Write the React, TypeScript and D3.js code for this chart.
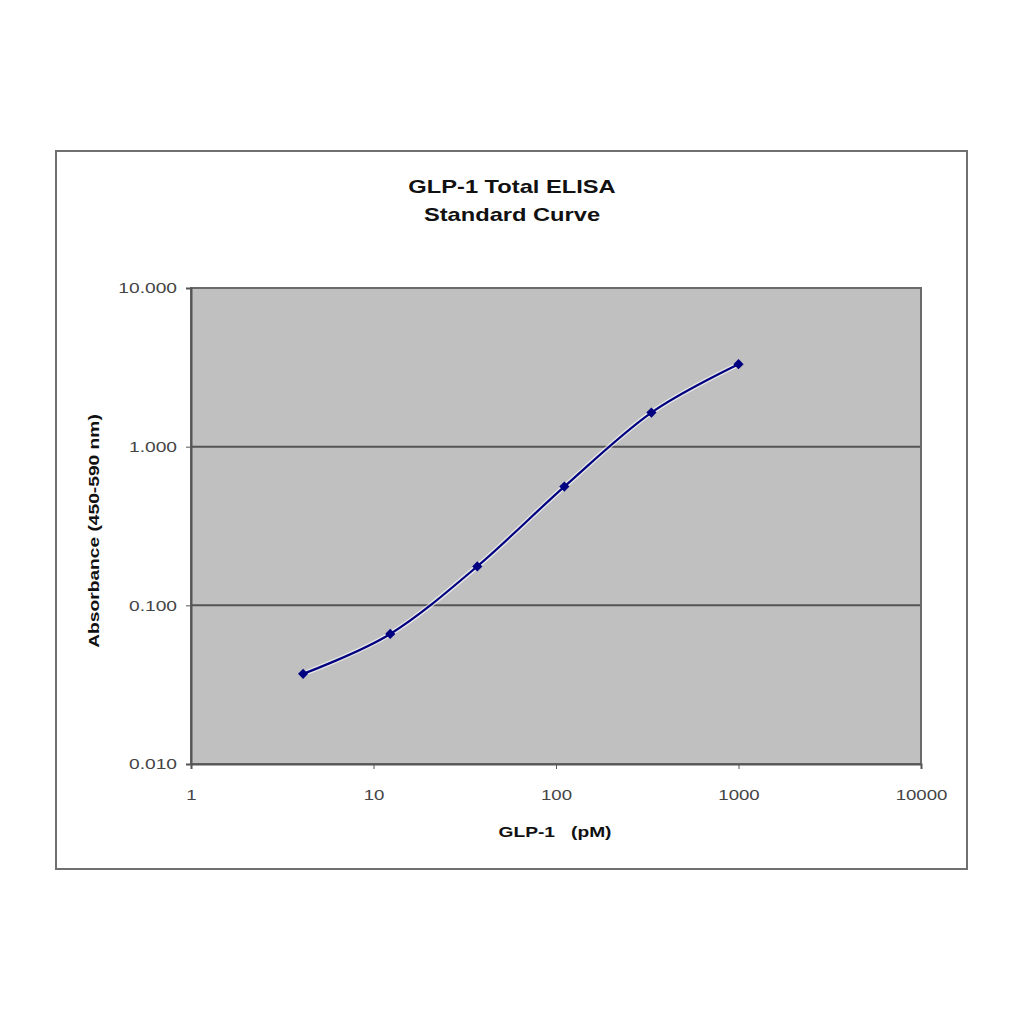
import { useEffect, useRef } from "react";
import * as d3 from "d3";

// GLP-1 standard curve (3-fold dilutions)
const concentrations = [4.115, 12.35, 37.04, 111.1, 333.3, 1000];
const absorbance = [0.037, 0.066, 0.176, 0.56, 1.64, 3.31];
const xTicks = [1, 10, 100, 1000, 10000];
const yTicks = [0.01, 0.1, 1, 10];
const titleLines = ["GLP-1 Total ELISA", "Standard Curve"];
const xTitle = "GLP-1  (pM)";
const yTitle = "Absorbance (450-590 nm)";

const W = 1024;
const H = 1024;
const plot = { left: 191, top: 288, right: 921, bottom: 764 };
const font = "Arial, 'Liberation Sans', sans-serif";
const stretch = 1.28; // the old Excel text renders wide

export default function App() {
  const svgRef = useRef<SVGSVGElement>(null);

  useEffect(() => {
    const svg = d3.select(svgRef.current);
    if (!svg.node()) return;
    svg.selectAll("*").remove();

    const x = d3.scaleLog().domain([1, 10000]).range([plot.left, plot.right]);
    const y = d3.scaleLog().domain([0.01, 10]).range([plot.bottom, plot.top]);

    svg.append("rect").attr("width", W).attr("height", H).attr("fill", "#fff");

    // outer chart frame
    svg.append("rect")
      .attr("x", 56).attr("y", 151)
      .attr("width", 911).attr("height", 718)
      .attr("fill", "#fff")
      .attr("stroke", "#707070")
      .attr("stroke-width", 2);

    // plot area
    svg.append("rect")
      .attr("x", plot.left).attr("y", plot.top)
      .attr("width", plot.right - plot.left)
      .attr("height", plot.bottom - plot.top)
      .attr("fill", "#c0c0c0");

    // gridlines
    svg.append("g")
      .selectAll("line")
      .data(yTicks.slice(1, -1))
      .join("line")
      .attr("x1", plot.left).attr("x2", plot.right)
      .attr("y1", (d) => y(d)).attr("y2", (d) => y(d))
      .attr("stroke", "#555")
      .attr("stroke-width", 2);

    svg.append("rect")
      .attr("x", plot.left).attr("y", plot.top)
      .attr("width", plot.right - plot.left)
      .attr("height", plot.bottom - plot.top)
      .attr("fill", "none")
      .attr("stroke", "#6a6a6a")
      .attr("stroke-width", 2);

    // axes
    const yAxis = svg.append("g")
      .attr("transform", `translate(${plot.left},0)`)
      .call(d3.axisLeft(y).tickValues(yTicks).tickFormat(d3.format(".3f")).tickSize(5));
    yAxis.select(".domain").attr("stroke", "#555").attr("stroke-width", 2);
    yAxis.selectAll(".tick line").attr("stroke", "#555");
    yAxis.selectAll("text")
      .attr("x", -14 / stretch)
      .attr("transform", `scale(${stretch},1)`)
      .attr("font-family", font).attr("font-size", 15).attr("fill", "#444");

    const xAxis = svg.append("g")
      .attr("transform", `translate(0,${plot.bottom})`)
      .call(d3.axisBottom(x).tickValues(xTicks).tickFormat(d3.format("d")).tickSize(5).tickPadding(20));
    xAxis.select(".domain").attr("stroke", "#555").attr("stroke-width", 2);
    xAxis.selectAll(".tick line").attr("stroke", "#555");
    xAxis.selectAll("text")
      .attr("transform", `scale(${stretch * 0.97},1)`)
      .attr("font-family", font).attr("font-size", 15).attr("fill", "#444");

    // data line (smoothed, Excel-style)
    const pts = concentrations.map((c, i) => [x(c), y(absorbance[i])] as [number, number]);
    const line = d3.line().curve(d3.curveCatmullRom.alpha(0));
    svg.append("path")
      .attr("d", line(pts))
      .attr("fill", "none")
      .attr("stroke", "#fff")
      .attr("stroke-width", 5)
      .attr("opacity", 0.6);
    svg.append("path")
      .attr("d", line(pts))
      .attr("fill", "none")
      .attr("stroke", "#000080")
      .attr("stroke-width", 2.2);

    svg.append("g")
      .selectAll("path")
      .data(pts)
      .join("path")
      .attr("transform", (d) => `translate(${d[0]},${d[1]}) rotate(45)`)
      .attr("d", d3.symbol(d3.symbolSquare, 52)())
      .attr("fill", "#000080");

    // text helper: stretched horizontally like the source
    const label = (
      tx: number, ty: number, text: string, size: number, rot = 0
    ) => {
      svg.append("g")
        .attr("transform", `translate(${tx},${ty}) rotate(${rot}) scale(${stretch},1)`)
        .append("text")
        .attr("text-anchor", "middle")
        .attr("font-family", font)
        .attr("font-weight", "bold")
        .attr("font-size", size)
        .attr("fill", "#111")
        .attr("xml:space", "preserve")
        .text(text);
    };

    titleLines.forEach((t, i) => label(512, 193 + i * 28, t, 18.5));
    label(555, 837, xTitle.replace("  ", "   "), 15);
    label(99, 531, yTitle, 15, -90);
  }, []);

  return (
    <svg
      ref={svgRef}
      width={W}
      height={H}
      style={{ position: "absolute", left: 0, top: 0 }}
    />
  );
}
